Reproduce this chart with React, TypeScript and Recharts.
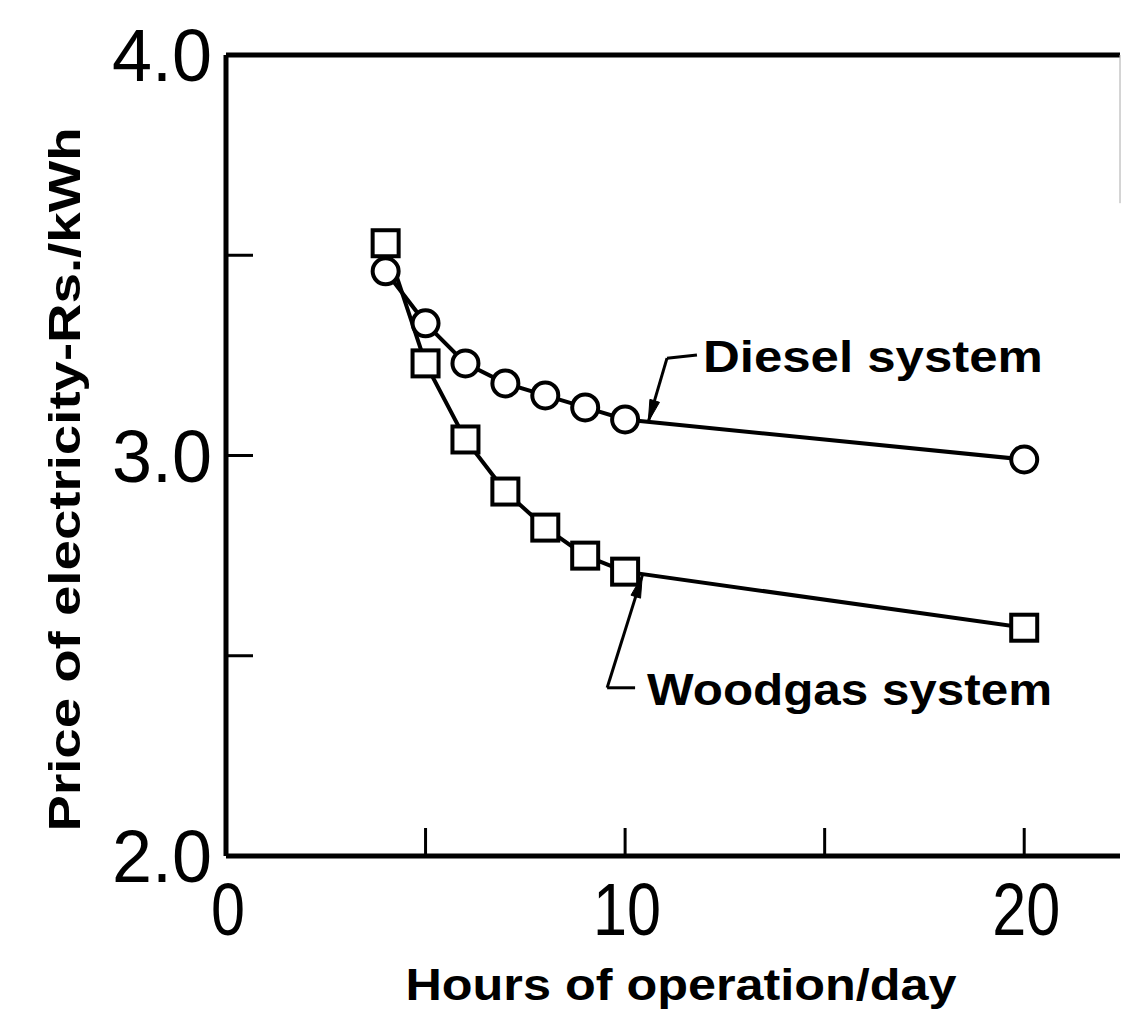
import React from 'react';
import { LineChart, Line, XAxis, YAxis, ReferenceLine, ReferenceDot } from 'recharts';

// ---- data ----
const hours = [4, 5, 6, 7, 8, 9, 10, 20];
const dieselPrice = [3.46, 3.33, 3.23, 3.18, 3.15, 3.12, 3.09, 2.99];
const woodgasPrice = [3.53, 3.23, 3.04, 2.91, 2.82, 2.75, 2.71, 2.57];

const xTicks = [0, 5, 10, 15, 20];
const xTickLabels = ['0', '', '10', '', '20'];
const yTicks = [2, 2.5, 3, 3.5, 4];
const yTickLabels = ['2.0', '', '3.0', '', '4.0'];

const xTitle = 'Hours of operation/day';
const yTitle = 'Price of electricity-Rs./kWh';
const seriesNames = ['Diesel system', 'Woodgas system'];

// annotation leader lines (data units)
const dieselLeader = [
  { x: 10.58, y: 3.084 },
  { x: 11.05, y: 3.243 },
  { x: 11.8, y: 3.251 },
];
const woodgasLeader = [
  { x: 10.43, y: 2.7 },
  { x: 9.55, y: 2.42 },
  { x: 10.25, y: 2.42 },
];
const dieselLabelAt = { x: 11.95, y: 3.208 };
const woodgasLabelAt = { x: 10.55, y: 2.377 };

const data = hours.map((h, i) => ({ h, diesel: dieselPrice[i], woodgas: woodgasPrice[i] }));

// ---- style ----
const FONT = '"Liberation Sans", Arial, sans-serif';
const INK = '#000';

const YTick = (props: any) => {
  const { x, y, payload, index } = props;
  const label = yTickLabels[yTicks.indexOf(payload.value)] || '';
  return (
    <g key={`yt-${index}`}>
      <line x1={x} x2={x + 27} y1={y} y2={y} stroke={INK} strokeWidth={3} />
      {label && (
        <text
          x={x - 14}
          y={y + 26}
          textAnchor="end"
          fontFamily={FONT}
          fontSize={74}
          fill={INK}
          textLength={100}
          lengthAdjust="spacingAndGlyphs"
        >
          {label}
        </text>
      )}
    </g>
  );
};

const XTick = (props: any) => {
  const { x, y, payload, index } = props;
  const label = xTickLabels[xTicks.indexOf(payload.value)] || '';
  return (
    <g key={`xt-${index}`}>
      <line x1={x} x2={x} y1={y} y2={y - 28} stroke={INK} strokeWidth={3} />
      {label && (
        <text
          x={x + 2}
          y={y + 79}
          textAnchor="middle"
          fontFamily={FONT}
          fontSize={74}
          fill={INK}
          textLength={label.length * 34}
          lengthAdjust="spacingAndGlyphs"
        >
          {label}
        </text>
      )}
    </g>
  );
};

const XTitle = (props: any) => {
  const vb = props.viewBox || { x: 226, y: 856, width: 894 };
  return (
    <text
      x={vb.x + vb.width / 2 + 8}
      y={vb.y + 144}
      textAnchor="middle"
      fontFamily={FONT}
      fontWeight="bold"
      fontSize={44}
      fill={INK}
      textLength={551}
      lengthAdjust="spacingAndGlyphs"
    >
      {xTitle}
    </text>
  );
};

const YTitle = (props: any) => {
  const vb = props.viewBox || { x: 0, y: 55, width: 226, height: 801 };
  const cx = 80;
  const cy = vb.y + vb.height / 2 + 24;
  return (
    <text
      x={cx}
      y={cy}
      transform={`rotate(-90, ${cx}, ${cy})`}
      textAnchor="middle"
      fontFamily={FONT}
      fontWeight="bold"
      fontSize={44}
      fill={INK}
      textLength={704}
      lengthAdjust="spacingAndGlyphs"
    >
      {yTitle}
    </text>
  );
};

const SquareDot = (props: any) => {
  const { cx, cy, index } = props;
  if (cx == null || cy == null) return <g key={`sq-${index}`} />;
  return (
    <rect
      key={`sq-${index}`}
      x={cx - 13}
      y={cy - 13}
      width={26}
      height={26}
      fill="#fff"
      stroke={INK}
      strokeWidth={4}
    />
  );
};

const makeArrow = (dx: number, dy: number) => (props: any) => {
  const { cx, cy } = props;
  const len = Math.hypot(dx, dy);
  const ux = dx / len;
  const uy = dy / len;
  const bx = cx + ux * 22;
  const by = cy + uy * 22;
  const px = -uy * 5;
  const py = ux * 5;
  return (
    <polygon
      points={`${cx},${cy} ${bx + px},${by + py} ${bx - px},${by - py}`}
      fill={INK}
      stroke={INK}
      strokeWidth={1}
    />
  );
};

const makeLabel = (text: string, width: number) => (props: any) => {
  const { cx, cy } = props;
  return (
    <text
      x={cx}
      y={cy}
      fontFamily={FONT}
      fontWeight="bold"
      fontSize={44}
      fill={INK}
      textLength={width}
      lengthAdjust="spacingAndGlyphs"
    >
      {text}
    </text>
  );
};

export default function App() {
  return (
    <div style={{ position: 'absolute', left: 0, top: 0, width: 1121, height: 1010, background: '#fff' }}>
      <LineChart
        width={1121}
        height={1010}
        data={data}
        margin={{ top: 55, right: 1, bottom: 54, left: 0 }}
      >
        <XAxis
          dataKey="h"
          type="number"
          domain={[0, 22.4]}
          ticks={xTicks}
          interval={0}
          allowDataOverflow
          height={100}
          axisLine={{ stroke: INK, strokeWidth: 5 }}
          tickLine={false}
          tickSize={0}
          tickMargin={0}
          tick={<XTick />}
          label={<XTitle />}
        />
        <YAxis
          type="number"
          domain={[2, 4]}
          ticks={yTicks}
          interval={0}
          allowDataOverflow
          width={226}
          axisLine={{ stroke: INK, strokeWidth: 5 }}
          tickLine={false}
          tickSize={0}
          tickMargin={0}
          tick={<YTick />}
          label={<YTitle />}
        />
        <ReferenceLine y={4} stroke={INK} strokeWidth={5} />
        <ReferenceLine
          segment={[
            { x: 22.4, y: 4 },
            { x: 22.4, y: 3.63 },
          ]}
          stroke="#aaa"
          strokeWidth={1}
        />
        <Line
          dataKey="diesel"
          name={seriesNames[0]}
          stroke={INK}
          strokeWidth={4}
          isAnimationActive={false}
          dot={{ r: 13, fill: '#fff', stroke: INK, strokeWidth: 4 }}
        />
        <Line
          dataKey="woodgas"
          name={seriesNames[1]}
          stroke={INK}
          strokeWidth={4}
          isAnimationActive={false}
          dot={<SquareDot />}
        />
        {dieselLeader.slice(1).map((p, i) => (
          <ReferenceLine key={`dl-${i}`} segment={[dieselLeader[i], p]} stroke={INK} strokeWidth={3} />
        ))}
        {woodgasLeader.slice(1).map((p, i) => (
          <ReferenceLine key={`wl-${i}`} segment={[woodgasLeader[i], p]} stroke={INK} strokeWidth={3} />
        ))}
        <ReferenceDot
          x={dieselLeader[0].x}
          y={dieselLeader[0].y}
          r={0}
          shape={makeArrow(19, -62)}
        />
        <ReferenceDot
          x={woodgasLeader[0].x}
          y={woodgasLeader[0].y}
          r={0}
          shape={makeArrow(-35, 113)}
        />
        <ReferenceDot x={dieselLabelAt.x} y={dieselLabelAt.y} r={0} shape={makeLabel(seriesNames[0], 340)} />
        <ReferenceDot x={woodgasLabelAt.x} y={woodgasLabelAt.y} r={0} shape={makeLabel(seriesNames[1], 405)} />
      </LineChart>
    </div>
  );
}
